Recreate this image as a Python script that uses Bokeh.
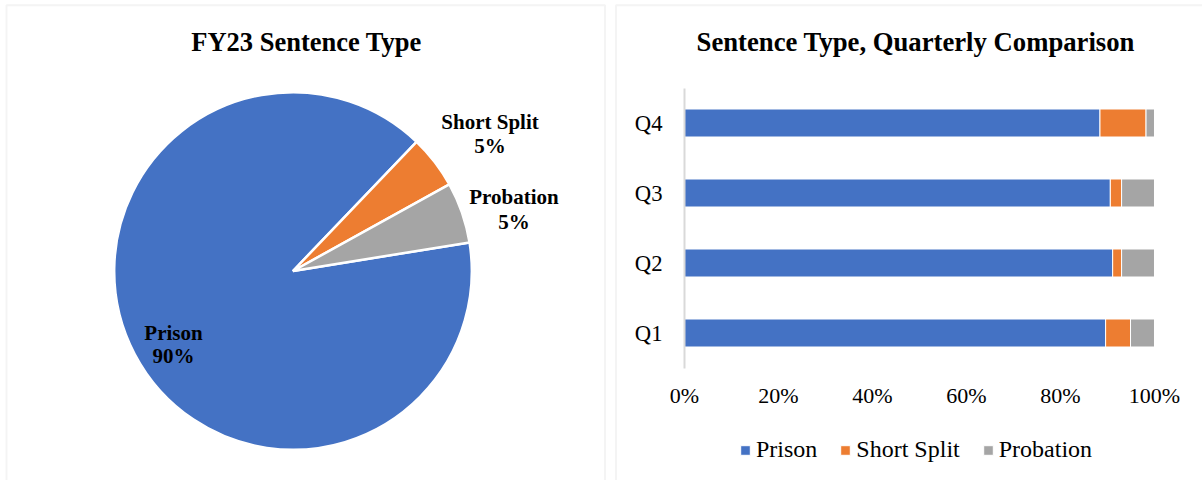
import math
from bokeh.plotting import figure
from bokeh.models import (ColumnDataSource, Range1d, Legend, LegendItem, FixedTicker,
                          PrintfTickFormatter, BoxAnnotation)
from bokeh.layouts import row
from bokeh.embed import file_html
from bokeh.resources import INLINE
from bokeh.core.properties import value

# ---------------- data ----------------
pie_labels = ["Prison", "Short Split", "Probation"]
pie_values = [89.7, 4.8, 5.5]
pie_pct_text = ["90%", "5%", "5%"]
series_colors = ["#4472C4", "#ED7D31", "#A5A5A5"]

quarters = ["Q1", "Q2", "Q3", "Q4"]
prison = [89.6, 91.1, 90.6, 88.4]
short_split = [5.3, 1.9, 2.4, 9.8]
probation = [5.1, 7.0, 7.0, 1.8]
x_ticks = [0, 20, 40, 60, 80, 100]

SERIF = "Liberation Serif"
BORDER = "#d9d9d9"
H = 480

# ---------------- pie panel (data units = pixels, y up) ----------------
W1 = 610
p1 = figure(width=W1, height=H, x_range=Range1d(0, W1), y_range=Range1d(0, H),
            output_backend="svg", toolbar_location=None, tools="", min_border=0)
p1.axis.visible = False
p1.grid.visible = False
p1.outline_line_color = None
p1.add_layout(BoxAnnotation(left=6, right=604.5, top=475.3, bottom=-20,
                            fill_alpha=0, line_color=BORDER, line_width=2))

cx, cy, r = 292.5, 209.5, 178.8
start_deg = 9.2
total = sum(pie_values)
starts, ends = [], []
a = math.radians(start_deg)
for v in pie_values:
    span = 2 * math.pi * v / total
    starts.append(a)
    ends.append(a - span)
    a -= span
src1 = ColumnDataSource(dict(start=starts, end=ends, color=series_colors, label=pie_labels))
p1.wedge(x=cx, y=cy, radius=r, start_angle="start", end_angle="end", direction="clock",
         fill_color="color", line_color="white", line_width=2.5, source=src1)

lab_x = [173, 489.5, 513.5]
name_y = [147.7, 358.7, 283.7]
pct_y = [124.3, 334.3, 258.7]
p1.text(x=lab_x, y=name_y, text=pie_labels, text_font=value(SERIF), text_font_style="bold",
        text_font_size="21px", text_align="center", text_baseline="alphabetic", text_color="black")
p1.text(x=lab_x, y=pct_y, text=pie_pct_text, text_font=value(SERIF), text_font_style="bold",
        text_font_size="21px", text_align="center", text_baseline="alphabetic", text_color="black")
p1.text(x=[306], y=[439], text=["FY23 Sentence Type"], text_font=value(SERIF),
        text_font_style="bold", text_font_size="26.5px", text_align="center",
        text_baseline="alphabetic", text_color="black")

# ---------------- stacked bar panel ----------------
W2 = 592
ypos = [i + 1 for i in range(len(quarters))]
src2 = ColumnDataSource(dict(pos=ypos, quarter=quarters, prison=prison,
                             short_split=short_split, probation=probation))
p2 = figure(width=W2, height=H, x_range=Range1d(-15.745, 110.213), y_range=Range1d(-1.107, 5.75),
            output_backend="svg", toolbar_location=None, tools="", min_border=0)
p2.grid.visible = False
p2.outline_line_color = None
p2.add_layout(BoxAnnotation(left=-14.57, right=130, top=5.683, bottom=-5,
                            fill_alpha=0, line_color=BORDER, line_width=2))

rends = p2.hbar_stack(["prison", "short_split", "probation"], y="pos", height=0.4,
                      color=series_colors, line_color="white", line_width=1, source=src2)

p2.text(x=[49.2], y=[5.16], text=["Sentence Type, Quarterly Comparison"],
        text_font=value(SERIF), text_font_style="bold", text_font_size="26.7px",
        text_align="center", text_baseline="alphabetic", text_color="black")

xa = p2.xaxis[0]
xa.fixed_location = 0.5
xa.bounds = (0, 100)
xa.ticker = FixedTicker(ticks=x_ticks)
xa.formatter = PrintfTickFormatter(format="%d%%")
xa.axis_line_color = None
xa.major_tick_line_color = None
xa.minor_tick_line_color = None
xa.major_tick_out = 0
xa.major_tick_in = 0
xa.major_label_standoff = 15
xa.major_label_text_font = SERIF
xa.major_label_text_font_size = "22px"
xa.major_label_text_color = "black"

ya = p2.yaxis[0]
ya.fixed_location = 0
ya.bounds = (0.5, 4.5)
ya.ticker = FixedTicker(ticks=ypos)
ya.major_label_overrides = {p: q for p, q in zip(ypos, quarters)}
ya.axis_line_color = BORDER
ya.axis_line_width = 2
ya.major_tick_line_color = None
ya.minor_tick_line_color = None
ya.major_tick_out = 0
ya.major_tick_in = 0
ya.major_label_standoff = 22
ya.major_label_text_font = SERIF
ya.major_label_text_font_size = "22.7px"
ya.major_label_text_color = "black"

legend = Legend(items=[LegendItem(label=n, renderers=[rr]) for n, rr in zip(pie_labels, rends)],
                orientation="horizontal", location=(129, 17), border_line_color=None,
                background_fill_alpha=0, padding=0, margin=0, spacing=22, label_standoff=5,
                glyph_width=12, glyph_height=12, label_text_color="black",
                label_text_font_size="24px")
legend.label_text_font = SERIF
p2.add_layout(legend)

layout = row(p1, p2)
open("out.html", "w").write(file_html(layout, INLINE))
